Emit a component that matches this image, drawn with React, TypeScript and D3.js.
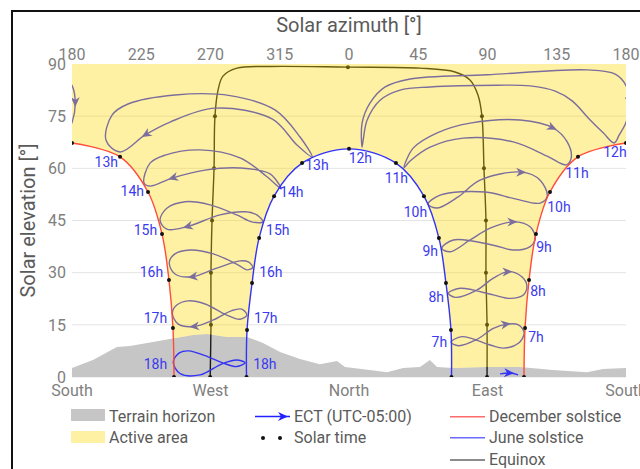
import React from 'react';
import * as d3 from 'd3';

type Pt = number[];

const W = 640;
const H = 469;

// axes
const azTicks = [180, 225, 270, 315, 360, 405, 450, 495, 540];
const elTicks = [0, 15, 30, 45, 60, 75, 90];
const compassAz = [180, 270, 360, 450, 540];
const compassNames = ['South', 'West', 'North', 'East', 'South'];

// terrain horizon [azimuth (180..540), elevation]
const terrain: Pt[] = [
  [180, 2.6], [193.6, 4.9], [209.2, 8.6], [217.7, 8.9], [243.7, 10.9], [258.6, 12.1],
  [267.7, 12.4], [280.7, 11.5], [293.7, 11.5], [304.1, 9.8], [315.2, 7.2], [328.1, 5.2],
  [341.1, 3.7], [352.2, 4.6], [357.4, 2.9], [373.6, 2.0], [384.7, 1.4], [395.1, 2.6],
  [406.1, 2.9], [412.6, 4.9], [417.2, 2.9], [427.6, 2.6], [449.7, 2.9], [471.1, 2.9],
  [492.5, 2.0], [514.6, 1.4], [525.0, 2.3], [540, 2.6],
];

// day paths, points at each solar hour
const decLeft: Pt[] = [[180, 67.3], [211.2, 63.3], [229.4, 53.2], [238.5, 41.1], [243, 27.9], [245.6, 14.1], [246.3, 0]];
const decRight: Pt[] = [[540, 67.3], [508.8, 63.3], [490.6, 53.2], [481.5, 41.1], [477, 27.9], [474.4, 14.1], [473.7, 0]];
const june: Pt[] = [
  [293.4, 0], [293.75, 13.5], [297, 27], [301.6, 40], [311.3, 52], [329.5, 61.5], [360, 65.6],
  [390.5, 61.5], [408.7, 52], [418.4, 40], [423, 27], [426.25, 13.5], [426.6, 0],
];
const equinox: Pt[] = [
  [269.8, 0], [270.3, 15], [270.3, 30], [271, 45], [272.3, 60], [272.9, 75], [274.9, 82.5],
  [278.1, 86.5], [287.2, 88.8], [308.7, 89.3], [359.3, 89.1], [406.1, 88.8], [428.9, 87.7],
  [438.6, 85.4], [443.8, 81.1], [446.4, 75], [447.7, 60], [449, 45], [449, 30], [449.7, 15], [449.7, 0],
];
const equinoxDots: Pt[] = [
  [269.8, 0], [270.3, 15], [270.3, 30], [271, 45], [272.3, 60], [272.9, 75], [359.3, 89.1],
  [446.4, 75], [447.7, 60], [449, 45], [449, 30], [449.7, 15], [449.7, 0],
];

// analemma loops per clock hour (ECT)
const loop6: Pt[] = [[458.2, 0.9], [464.7, 1.15], [469.9, 0.6]];
const loop7: Pt[] = [[426.4, 10.0], [431.1, 9.0], [443.1, 10.8], [453.8, 14.0], [462.6, 15.2], [470.1, 15.0], [473.8, 12.7], [470.1, 9.7], [460.3, 8.3], [451.7, 9.2], [433.3, 11.6]];
const loop8: Pt[] = [[424.6, 24.1], [429.0, 22.9], [443.1, 25.0], [453.8, 28.4], [463.6, 30.3], [472.3, 28.8], [475.6, 26.2], [473.3, 23.6], [464.7, 22.6], [453.8, 23.6], [432.2, 25.5]];
const loop9: Pt[] = [[420.3, 37.0], [425.7, 36.0], [438.7, 39.4], [451.7, 42.8], [466.8, 44.6], [477.7, 43.2], [481.0, 39.9], [477.7, 37.5], [466.8, 36.5], [453.8, 37.9], [427.8, 39.4]];
const loop10: Pt[] = [[411.4, 49.7], [417.3, 48.6], [430.9, 51.8], [445.2, 56.6], [472.5, 58.9], [484.2, 56.6], [488.8, 52.0], [484.2, 50.0], [468.0, 51.2], [448.5, 53.2], [419.2, 52.3]];
const loop11: Pt[] = [[395.8, 60.2], [401.7, 65.8], [417.3, 70.2], [438.7, 73.0], [471.2, 73.9], [492.7, 71.6], [501.8, 67.6], [504.4, 63.0], [501.1, 61.0], [488.8, 63.5], [466.7, 67.6], [434.2, 68.7], [412.7, 66.1], [399.7, 62.1]];
const loop12: Pt[] = [
  [368.5, 66.1], [368.5, 73.0], [373.7, 78.8], [383.5, 83.4], [399.7, 85.7], [449.8, 86.9], [514.8, 88.3],
  [533.0, 87.1], [540.1, 83.7], [542.1, 78.8], [540.1, 73.3], [535.6, 69.6], [532.3, 67.3], [525.2, 70.2],
  [516.7, 73.9], [505.0, 79.4], [494.0, 82.2], [477.7, 83.7], [456.3, 83.9], [412.7, 83.4], [393.2, 82.5],
  [380.2, 79.6], [371.8, 73.9], [369.2, 68.1],
];
const loop13: Pt[] = [[202.1, 68.1], [206.0, 75.3], [216.4, 78.5], [247.0, 81.1], [282.7, 80.9], [311.9, 76.8], [328.2, 69.0], [336.0, 63.3], [326.2, 66.7], [310.0, 74.2], [272.9, 77.3], [243.7, 73.3], [227.5, 69.6], [211.2, 64.7]];
const loop14: Pt[] = [[226.8, 55.8], [230.7, 61.5], [240.5, 63.8], [263.2, 65.3], [289.2, 63.0], [306.1, 57.8], [315.9, 54.1], [308.7, 58.4], [289.2, 60.1], [266.5, 59.5], [245.0, 57.2], [230.7, 54.9]];
const loop15: Pt[] = [[237.2, 45.1], [241.6, 48.5], [253.5, 50.4], [269.7, 49.5], [287.1, 46.6], [296.8, 44.6], [304.0, 44.6], [300.1, 46.6], [292.5, 47.5], [276.2, 46.6], [254.6, 43.2], [241.6, 42.5]];
const loop16: Pt[] = [[243.2, 32.9], [246.9, 35.4], [256.7, 36.5], [271.8, 35.4], [288.1, 32.2], [293.6, 30.8], [297.5, 31.5], [294.6, 33.1], [289.2, 33.4], [274.1, 31.3], [257.8, 28.8], [246.9, 29.6]];
const loop17: Pt[] = [[245.2, 18.3], [248.1, 20.7], [255.6, 21.9], [266.5, 21.0], [280.6, 17.8], [289.2, 16.6], [293.6, 17.8], [290.3, 19.5], [283.8, 19.1], [271.8, 16.4], [258.8, 14.5], [249.1, 15.2]];
const loop18: Pt[] = [[245.8, 4.4], [250, 7.0], [256, 7.5], [266, 6.2], [278.3, 4.0], [287, 3.0], [292.5, 4.1], [287, 4.9], [277.5, 3.8], [263.2, 0.6], [250.2, 1.0]];

// hour labels (baseline anchor, degrees)
const amHours = ['7h', '8h', '9h', '10h', '11h', '12h'];
const amJuneLabel: Pt[] = [[423.8, 8.6], [421.8, 21.6], [417.9, 34.8], [410.8, 46.0], [398.4, 55.8], [375.0, 61.5]];
const amDecLabel: Pt[] = [[476.4, 10.1], [477.7, 23.3], [481.6, 35.9], [488.8, 47.4], [500.5, 57.2], [525.2, 63.3]];
const pmHours = ['13h', '14h', '15h', '16h', '17h', '18h'];
const pmDecLabel: Pt[] = [[209.9, 60.4], [226.8, 52.0], [235.3, 40.8], [239.2, 28.8], [241.8, 15.5], [241.8, 2.3]];
const pmJuneLabel: Pt[] = [[331.5, 59.5], [315.2, 51.8], [306.1, 40.8], [301.6, 28.8], [298.3, 15.5], [297.7, 2.3]];

const FONT = 'Roboto, "Noto Sans", sans-serif';
const BLUE = '#3333f5';
const RED = '#ff4b3a';
const YELLOW = '#ffd700';

export default function App() {
  const x = d3.scaleLinear().domain([180, 540]).range([72, 626]);
  const y = d3.scaleLinear().domain([0, 90]).range([377, 64]);

  const smooth = d3.line<Pt>().x(d => x(d[0])).y(d => y(d[1])).curve(d3.curveCatmullRom.alpha(0.5));
  const closed = d3.line<Pt>().x(d => x(d[0])).y(d => y(d[1])).curve(d3.curveCatmullRomClosed.alpha(0.5));
  const terrainArea = d3.area<Pt>().x(d => x(d[0])).y0(y(0)).y1(d => y(d[1]));

  const seg = (pts: Pt[]) => (smooth(pts) || '').replace(/^M/, 'L');
  const active =
    `M${x(180)},${y(90)}L${x(540)},${y(90)}` +
    seg(decRight) + seg(june.slice().reverse()) + seg(decLeft.slice().reverse()) + 'Z';

  const arrow = (pts: Pt[], i: number, color: string, isClosed = true) => {
    const n = pts.length;
    const a = pts[isClosed ? (i - 1 + n) % n : Math.max(0, i - 1)];
    const b = pts[isClosed ? (i + 1) % n : Math.min(n - 1, i + 1)];
    const p = pts[i];
    const ang = (Math.atan2(y(b[1]) - y(a[1]), x(b[0]) - x(a[0])) * 180) / Math.PI;
    return (
      <path d="M4,0L-6,-4.5L-3,0L-6,4.5Z" fill={color}
        transform={`translate(${x(p[0])},${y(p[1])}) rotate(${ang})`} />
    );
  };

  const loops: [Pt[], number][] = [
    [loop7, 4], [loop8, 4], [loop9, 4], [loop10, 4], [loop11, 5],
    [loop13, 12], [loop14, 10], [loop15, 10], [loop16, 10], [loop17, 10], [loop18, -1],
  ];
  const wrap = x(180) - x(540);

  const dot = (d: Pt, i: number) => <circle key={i} cx={x(d[0])} cy={y(d[1])} r={2} fill="#111" />;

  return (
    <svg width={W} height={H} style={{ position: 'absolute', left: 0, top: 0, background: '#fff' }} fontFamily={FONT}>
      <defs>
        <clipPath id="plot">
          <rect x={x(180)} y={y(90) - 4} width={x(540) - x(180)} height={y(0) - y(90) + 4} />
        </clipPath>
        <mask id="aboveTerrain" maskUnits="userSpaceOnUse" x={0} y={0} width={W} height={H}>
          <rect x={0} y={0} width={W} height={H} fill="#fff" />
          <path d={terrainArea(terrain) || ''} fill="#000" />
        </mask>
      </defs>

      <rect x={12} y={11} width={700} height={600} fill="none" stroke="#111" strokeWidth={2} />

      {/* grid */}
      {elTicks.slice(0, -1).map(t => (
        <line key={t} x1={x(180)} x2={x(540)} y1={y(t)} y2={y(t)} stroke="#e4e4e4" strokeWidth={1} />
      ))}

      <path d={terrainArea(terrain) || ''} fill="#c6c6c6" />

      <g clipPath="url(#plot)">
        <path d={smooth(equinox) || ''} fill="none" stroke="#1a1a1a" strokeWidth={1.4} />
        {equinoxDots.map(dot)}
        {loops.map(([pts, ai], i) => (
          <g key={i}>
            <path d={closed(pts) || ''} fill="none" stroke={BLUE} strokeWidth={1.4} />
            {ai >= 0 && arrow(pts, ai, BLUE)}
          </g>
        ))}
        {[0, wrap].map(dx => (
          <g key={dx} transform={`translate(${dx},0)`}>
            <path d={closed(loop12) || ''} fill="none" stroke={BLUE} strokeWidth={1.4} />
            {arrow(loop12, 9, BLUE)}
          </g>
        ))}
        <path d={smooth(loop6) || ''} fill="none" stroke={BLUE} strokeWidth={1.4} />
        {arrow(loop6, 1, BLUE, false)}

        <path d={active} fill={YELLOW} fillOpacity={0.36} mask="url(#aboveTerrain)" />

        <path d={smooth(decLeft) || ''} fill="none" stroke={RED} strokeWidth={1.4} />
        <path d={smooth(decRight) || ''} fill="none" stroke={RED} strokeWidth={1.4} />
        <path d={smooth(june) || ''} fill="none" stroke={BLUE} strokeWidth={1.4} />
        {decLeft.map(dot)}
        {decRight.map(dot)}
        {june.map(dot)}
      </g>

      {/* hour labels */}
      <g fontSize={14} fill="#3a3af0">
        {amHours.map((h, i) => (
          <text key={'aj' + h} x={x(amJuneLabel[i][0])} y={y(amJuneLabel[i][1])} textAnchor="end">{h}</text>
        ))}
        {amHours.map((h, i) => (
          <text key={'ad' + h} x={x(amDecLabel[i][0])} y={y(amDecLabel[i][1])}>{h}</text>
        ))}
        {pmHours.map((h, i) => (
          <text key={'pd' + h} x={x(pmDecLabel[i][0])} y={y(pmDecLabel[i][1])} textAnchor="end">{h}</text>
        ))}
        {pmHours.map((h, i) => (
          <text key={'pj' + h} x={x(pmJuneLabel[i][0])} y={y(pmJuneLabel[i][1])}>{h}</text>
        ))}
      </g>

      {/* axes labels */}
      <g fontSize={16} fill="#808080">
        {azTicks.map(t => (
          <text key={t} x={x(t)} y={60} textAnchor="middle">{t % 360}</text>
        ))}
        {elTicks.map(t => (
          <text key={t} x={66} y={y(t)} dy="0.36em" textAnchor="end">{t}</text>
        ))}
        {compassAz.map((a, i) => (
          <text key={i} x={x(a)} y={396} textAnchor="middle">{compassNames[i]}</text>
        ))}
      </g>
      <text x={x(360)} y={32} textAnchor="middle" fontSize={20} fill="#5a5a5a">Solar azimuth [°]</text>
      <text transform={`translate(35,${(y(0) + y(90)) / 2}) rotate(-90)`} textAnchor="middle" fontSize={20} fill="#5a5a5a">
        Solar elevation [°]
      </text>

      {/* legend */}
      <g fontSize={16} fill="#5a5a5a">
        <rect x={71} y={409} width={34} height={12} fill="#c6c6c6" />
        <text x={109} y={421.5}>Terrain horizon</text>
        <rect x={71} y={431} width={34} height={12} fill={YELLOW} fillOpacity={0.36} />
        <text x={109} y={442.5}>Active area</text>

        <line x1={255} x2={290} y1={416.5} y2={416.5} stroke="#2222ff" strokeWidth={1.4} />
        <path d="M4,0L-6,-4.5L-3,0L-6,4.5Z" fill="#2222ff" transform="translate(284,416.5)" />
        <text x={294} y={421.5}>ECT (UTC-05:00)</text>
        <circle cx={263} cy={438} r={2} fill="#111" />
        <circle cx={280} cy={438} r={2} fill="#111" />
        <text x={294} y={442.5}>Solar time</text>

        <line x1={450} x2={485} y1={416.7} y2={416.7} stroke="#ff6a6a" strokeWidth={1.4} />
        <text x={489} y={421.5}>December solstice</text>
        <line x1={450} x2={485} y1={437.7} y2={437.7} stroke="#6a6aff" strokeWidth={1.4} />
        <text x={489} y={442.5}>June solstice</text>
        <line x1={450} x2={485} y1={460} y2={460} stroke="#666" strokeWidth={1.4} />
        <text x={489} y={465}>Equinox</text>
      </g>
    </svg>
  );
}
